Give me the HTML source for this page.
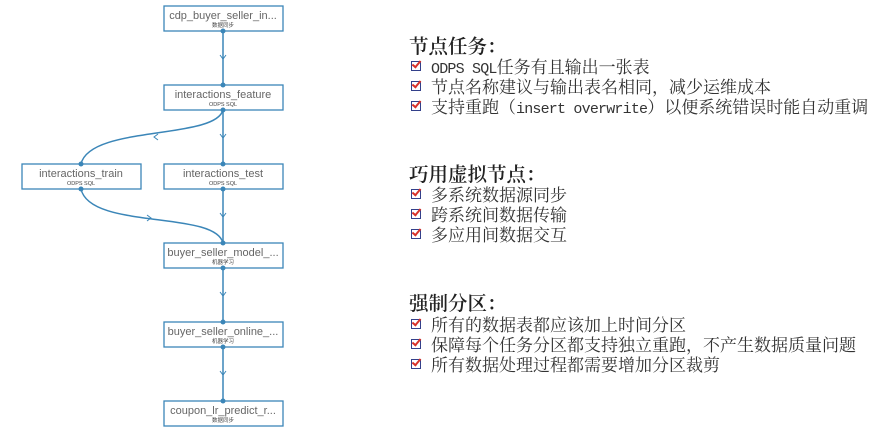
<!DOCTYPE html>
<html><head><meta charset="utf-8"><style>
body{margin:0;width:877px;height:434px;background:#fff;position:relative;overflow:hidden;font-family:"Noto Serif CJK SC","Liberation Serif",serif;color:#333}
.t{position:absolute;left:431px;font-size:17px;line-height:20px;white-space:nowrap}
.h{position:absolute;left:409px;font-size:19.5px;line-height:24px;white-space:nowrap;color:#222;font-weight:600}
.m{font-family:"Liberation Mono",monospace;font-size:15px;letter-spacing:-0.8px}
.cb{position:absolute;left:411px;width:8px;height:8px;border:1.5px solid #33408a;}
.cb:after{content:"";position:absolute;left:2px;top:-3px;width:3px;height:7px;border:solid #d8322a;border-width:0 2px 2px 0;transform:rotate(40deg)}
</style></head><body>
<svg width="300" height="434" style="position:absolute;left:0;top:0" font-family="Liberation Sans,sans-serif">
<g fill="none" stroke="#3b86b8" stroke-width="1.5">
<line x1="223" y1="31" x2="223" y2="85"/>
<line x1="223" y1="110" x2="223" y2="164"/>
<line x1="223" y1="189" x2="223" y2="243"/>
<line x1="223" y1="268" x2="223" y2="322"/>
<line x1="223" y1="347" x2="223" y2="401"/>
<path d="M223 110 C215 140 90 125 81 164"/>
<path d="M81 189 C90 230 215 210 223 243"/>
<path d="M220 55 l3 4 l3 -4 M220 134 l3 4 l3 -4 M220 213 l3 4 l3 -4 M220 292 l3 4 l3 -4 M220 371 l3 4 l3 -4" stroke-width="1"/>
<path d="M158 134 l-4 3 l4 3 M147 215 l4 3 l-4 3" stroke-width="1"/>
</g>
<g fill="#fff" stroke="#3b86b8" stroke-width="1.3">
<rect x="164" y="6" width="119" height="25"/>
<rect x="164" y="85" width="119" height="25"/>
<rect x="164" y="164" width="119" height="25"/>
<rect x="22" y="164" width="119" height="25"/>
<rect x="164" y="243" width="119" height="25"/>
<rect x="164" y="322" width="119" height="25"/>
<rect x="164" y="401" width="119" height="25"/>
</g>
<g fill="#3b86b8">
<circle cx="223" cy="31" r="2.5"/><circle cx="223" cy="85" r="2.5"/><circle cx="223" cy="110" r="2.5"/>
<circle cx="223" cy="164" r="2.5"/><circle cx="223" cy="189" r="2.5"/><circle cx="81" cy="164" r="2.5"/><circle cx="81" cy="189" r="2.5"/>
<circle cx="223" cy="243" r="2.5"/><circle cx="223" cy="268" r="2.5"/><circle cx="223" cy="322" r="2.5"/><circle cx="223" cy="347" r="2.5"/><circle cx="223" cy="401" r="2.5"/>
</g>
<g text-anchor="middle" fill="#666" font-size="11">
<text x="223" y="19">cdp_buyer_seller_in...</text>
<text x="223" y="98">interactions_feature</text>
<text x="223" y="177">interactions_test</text>
<text x="81" y="177">interactions_train</text>
<text x="223" y="256">buyer_seller_model_...</text>
<text x="223" y="335">buyer_seller_online_...</text>
<text x="223" y="414">coupon_lr_predict_r...</text>
</g>
<g text-anchor="middle" fill="#444" font-size="5.5" font-family="Liberation Sans,Noto Sans CJK SC,sans-serif">
<text x="223" y="27">数据同步</text>
<text x="223" y="106">ODPS SQL</text>
<text x="223" y="185">ODPS SQL</text>
<text x="81" y="185">ODPS SQL</text>
<text x="223" y="264">机器学习</text>
<text x="223" y="343">机器学习</text>
<text x="223" y="422">数据同步</text>
</g>
</svg>
<div class="h" style="top:33px">节点任务：</div>
<div class="cb" style="top:61px"></div><div class="t" style="top:56px"><span class="m">ODPS SQL</span>任务有且输出一张表</div>
<div class="cb" style="top:81px"></div><div class="t" style="top:76px">节点名称建议与输出表名相同，减少运维成本</div>
<div class="cb" style="top:101px"></div><div class="t" style="top:96px">支持重跑（<span class="m">insert overwrite</span>）以便系统错误时能自动重调</div>
<div class="h" style="top:161px">巧用虚拟节点：</div>
<div class="cb" style="top:189px"></div><div class="t" style="top:184px">多系统数据源同步</div>
<div class="cb" style="top:209px"></div><div class="t" style="top:204px">跨系统间数据传输</div>
<div class="cb" style="top:229px"></div><div class="t" style="top:224px">多应用间数据交互</div>
<div class="h" style="top:290px">强制分区：</div>
<div class="cb" style="top:319px"></div><div class="t" style="top:314px">所有的数据表都应该加上时间分区</div>
<div class="cb" style="top:339px"></div><div class="t" style="top:334px">保障每个任务分区都支持独立重跑，不产生数据质量问题</div>
<div class="cb" style="top:359px"></div><div class="t" style="top:354px">所有数据处理过程都需要增加分区裁剪</div>
</body></html>
